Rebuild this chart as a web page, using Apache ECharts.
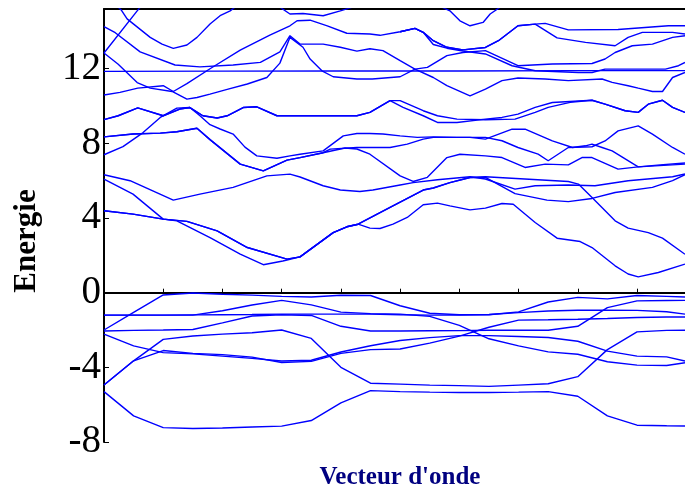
<!DOCTYPE html>
<html><head><meta charset="utf-8">
<script src="https://cdn.jsdelivr.net/npm/echarts@6/dist/echarts.min.js"></script>
<style>html,body{margin:0;padding:0;background:#fff}#c{width:685px;height:491px}</style>
</head><body><div id="c"></div>
<script>
// k-point grid (wave-vector units, one tick per unit)
const kGrid = [0,0.5,1,1.5,2,2.5,3,3.5,4,4.5,5,5.5,6,6.5,7,7.5,8,8.5,9,9.5,9.81];
// valence bands on kGrid
const vb1 = [-5.3,-6.6,-7.23,-7.28,-7.25,-7.2,-7.15,-6.85,-5.9,-5.25,-5.3,-5.33,-5.35,-5.35,-5.33,-5.3,-5.55,-6.6,-7.1,-7.13,-7.14];
const vb2 = [-4.95,-3.65,-2.5,-2.32,-2.22,-2.15,-2.0,-2.45,-4.0,-4.85,-4.9,-4.95,-4.98,-5.02,-4.95,-4.88,-4.5,-3.05,-2.1,-2.02,-2.01];
const vb3 = [-4.95,-3.65,-3.1,-3.25,-3.32,-3.45,-3.74,-3.68,-3.25,-3.05,-3.02,-2.7,-2.33,-1.85,-1.47,-1.45,-1.42,-1.38,-1.33,-1.3,-1.3];
const vb4 = [-2.22,-2.85,-3.21,-3.28,-3.4,-3.52,-3.66,-3.62,-3.18,-2.84,-2.56,-2.41,-2.3,-2.3,-2.35,-2.4,-2.6,-3.13,-3.4,-3.44,-3.66];
const vb5 = [-2.05,-2.02,-2.0,-1.97,-1.62,-1.25,-1.18,-1.22,-1.8,-2.05,-2.05,-2.04,-2.03,-2.01,-2.01,-2.01,-1.8,-0.8,-0.44,-0.42,-0.41];
const vb6 = [-1.2,-1.2,-1.2,-1.19,-1.18,-1.17,-1.15,-1.15,-1.15,-1.15,-1.18,-1.2,-1.2,-1.17,-1.07,-0.98,-0.94,-0.94,-0.95,-1.02,-1.15];
const vb7 = [-1.2,-1.2,-1.2,-1.2,-0.97,-0.66,-0.41,-0.65,-1.04,-1.12,-1.15,-1.27,-1.75,-2.47,-2.85,-3.17,-3.3,-3.7,-3.88,-3.9,-3.75];
const vb8 = [-2.0,-1.05,-0.12,-0.02,-0.08,-0.13,-0.2,-0.23,-0.14,-0.15,-0.7,-1.1,-1.18,-1.18,-1.03,-0.5,-0.25,-0.33,-0.15,-0.2,-0.23];

// conduction bands as [k, E]
const cb1 = [[0,6.09],[0.49,5.28],[1.00,3.94],[1.23,3.85],[1.79,2.95],[2.30,2.07],[2.69,1.5],[3.02,1.7],[3.31,1.92],[3.87,3.22],[4.10,3.53],[4.29,3.67],[4.49,3.46],[4.66,3.44],[4.88,3.67],[5.12,4.03],[5.39,4.71],[5.63,4.8],[5.84,4.65],[6.18,4.44],[6.44,4.53],[6.72,4.78],[6.91,4.74],[7.28,3.76],[7.65,2.92],[8.04,2.74],[8.24,2.42],[8.63,1.44],[8.85,1.0],[9.02,0.85],[9.36,1.08],[9.81,1.53]];
const cb2 = [[0,4.39],[0.49,4.21],[1.00,3.94],[1.40,3.82],[1.91,3.31],[2.42,2.42],[3.09,1.8],[3.31,1.92],[3.87,3.22],[4.10,3.53],[4.29,3.67],[4.83,4.57],[5.39,5.5],[5.56,5.61],[5.84,5.9],[6.18,6.17],[6.44,6.21],[7.84,5.96],[8.01,5.82],[8.24,5.1],[8.63,3.85],[8.85,3.46],[9.19,3.22],[9.43,2.92],[9.81,2.06]];
const cb3 = [[0,4.39],[0.49,4.21],[1.00,3.94],[1.40,3.82],[1.91,3.31],[2.42,2.42],[3.09,1.8],[3.31,1.92],[3.87,3.22],[4.10,3.53],[4.29,3.67],[4.83,4.57],[5.39,5.5],[5.56,5.61],[5.84,5.9],[6.18,6.17],[6.44,6.18],[6.94,5.31],[7.48,4.96],[7.84,4.88],[8.24,5.05],[8.63,5.37],[9.26,5.64],[9.60,6.0],[9.81,6.32]];
const cb4 = [[0,6.32],[0.44,6.0],[1.17,4.96],[1.62,5.28],[2.18,5.64],[2.75,6.26],[3.14,6.35],[3.31,6.2],[3.70,5.73],[3.99,5.5],[4.32,5.42],[4.54,5.5],[5.00,5.77],[5.22,5.9],[5.63,6.05],[6.18,6.21],[6.44,6.09],[6.94,5.55],[7.28,5.73],[7.84,5.77],[8.29,5.73],[8.85,6.0],[9.60,6.21],[9.81,6.36]];
const cb5 = [[0,8.35],[0.49,8.5],[0.95,8.55],[1.23,8.62],[1.57,8.81],[1.79,8.2],[2.30,6.89],[2.69,6.53],[3.09,7.1],[3.31,7.24],[3.70,7.5],[4.07,7.75],[4.27,7.7],[4.49,7.42],[5.00,6.26],[5.22,5.96],[5.46,6.18],[5.79,7.24],[6.01,7.42],[6.44,7.33],[6.72,7.24],[7.11,6.71],[7.45,6.89],[7.84,6.85],[8.07,7.24],[8.24,7.24],[8.68,6.62],[9.02,6.74],[9.81,6.89]];
const cb6 = [[0,8.35],[0.49,8.5],[0.95,8.55],[1.23,8.62],[1.57,8.81],[1.79,8.2],[2.30,6.89],[2.69,6.53],[3.09,7.1],[3.31,7.24],[3.70,7.5],[3.82,7.69],[4.27,7.78],[4.83,7.78],[5.12,7.96],[5.39,8.23],[5.56,8.32],[6.44,8.32],[6.72,8.14],[6.99,7.78],[7.33,7.42],[7.50,7.07],[7.84,7.78],[8.24,7.82],[8.46,8.13],[8.68,8.67],[9.02,8.94],[9.26,8.5],[9.60,7.78],[9.81,7.42]];
const cb7 = [[0,7.39],[0.32,7.83],[0.66,8.58],[0.95,9.39],[1.23,9.89],[1.45,9.92],[1.62,9.48],[1.79,9.0],[1.96,8.77],[2.18,8.5],[2.38,7.8],[2.58,7.33],[2.92,7.2],[3.14,7.33],[3.31,7.42],[3.70,7.6],[4.04,8.4],[4.27,8.53],[4.49,8.53],[4.71,8.5],[5.00,8.4],[5.29,8.32],[5.56,8.35],[5.96,8.32],[6.18,8.32],[6.44,8.23],[6.89,8.76],[7.11,8.76],[7.57,8.13],[7.91,7.78],[8.13,7.87],[8.24,7.96],[8.41,7.78],[8.58,7.6],[9.02,6.74],[9.39,6.85],[9.81,6.95]];
const cb8 = [[0,9.27],[0.24,9.48],[0.57,9.9],[1.0,9.48],[1.28,9.84],[1.45,9.92],[1.67,9.48],[1.91,9.36],[2.08,9.48],[2.35,9.92],[2.58,9.96],[2.92,9.48],[3.14,9.48],[4.27,9.48],[4.49,9.66],[4.83,10.29],[5.00,10.29],[5.39,9.75],[5.63,9.48],[5.96,9.3],[6.44,9.27],[6.94,9.3],[7.28,9.66],[7.50,9.93],[7.87,10.2],[8.24,10.31],[8.46,10.1],[8.80,9.75],[9.02,9.66],[9.19,10.1],[9.43,10.31],[9.60,9.93],[9.81,9.66]];
const cb9 = [[0,9.27],[0.24,9.48],[0.57,9.9],[1.0,9.48],[1.28,9.84],[1.45,9.92],[1.67,9.48],[1.91,9.36],[2.08,9.48],[2.35,9.92],[2.58,9.96],[2.92,9.48],[3.14,9.48],[4.27,9.48],[4.49,9.66],[4.83,10.29],[5.05,9.93],[5.39,9.48],[5.63,9.12],[5.96,9.12],[6.44,9.3],[6.72,9.39],[6.99,9.57],[7.28,9.93],[7.57,10.19],[8.24,10.31],[8.46,10.1],[8.80,9.75],[9.02,9.66],[9.19,10.1],[9.43,10.31],[9.60,9.93],[9.81,9.66]];
const cb10 = [[0,11.86],[2,11.87],[4,11.88],[6,11.88],[8,11.9],[9.81,11.9]];
const cb11 = [[0,14.25],[0.19,13.93],[0.61,12.9],[1.20,12.2],[1.62,12.1],[2.18,12.2],[2.64,12.34],[2.97,12.9],[3.14,13.77],[3.31,13.32],[3.70,13.32],[3.99,13.15],[4.27,12.94],[4.49,13.07],[4.71,12.97],[5.00,12.43],[5.25,11.98],[5.56,11.53],[5.79,11.09],[6.18,10.55],[6.44,10.91],[6.72,11.36],[6.99,11.5],[7.45,11.45],[7.84,11.36],[8.41,11.45],[8.58,11.27],[8.85,11.09],[9.02,10.96],[9.26,10.78],[9.43,10.78],[9.60,11.53],[9.81,11.8]];
const cb12 = [[0,12.84],[0.24,12.24],[0.56,11.26],[0.78,10.96],[1.15,10.78],[1.40,10.37],[1.57,10.46],[1.79,10.64],[2.08,10.89],[2.42,11.18],[2.75,11.53],[2.97,12.3],[3.14,13.68],[3.36,13.15],[3.48,12.52],[3.68,11.89],[3.87,11.57],[4.27,11.45],[4.53,11.45],[5.00,11.57],[5.25,11.98],[5.46,12.07],[5.79,12.7],[6.06,12.87],[6.44,12.97],[6.99,12.16],[7.57,12.25],[8.24,12.28],[8.46,12.52],[8.63,12.87],[8.92,13.23],[9.26,13.32],[9.60,13.68],[9.81,13.77]];
const cb13 = [[0,10.59],[0.27,10.73],[0.57,10.96],[1.00,11.09],[1.17,10.78],[1.40,11.2],[1.79,12.0],[2.30,13.0],[2.80,13.8],[3.14,14.3],[3.26,14.57],[3.48,14.6],[3.77,14.3],[4.10,13.9],[4.49,13.86],[4.66,13.79],[5.00,13.98],[5.25,14.16],[5.39,13.95],[5.56,13.5],[5.79,13.15],[6.06,13.01],[6.44,13.14],[6.66,13.5],[6.99,14.3],[7.28,14.39],[7.45,14.43],[7.84,14.08],[8.68,14.1],[9.53,14.3],[9.81,14.3]];
const cb14 = [[5.00,13.98],[5.25,14.16],[5.39,13.95],[5.56,13.5],[5.79,13.15],[6.06,13.01],[6.44,13.14],[6.66,13.5],[6.99,14.3],[7.28,14.39],[7.65,13.65],[8.13,13.41],[8.63,13.23],[8.85,13.68],[9.09,13.95],[9.60,13.95],[9.81,13.86]];
const cb15 = [[5.00,13.98],[5.25,14.16],[5.39,13.95],[5.56,13.3],[5.79,13.1],[6.06,12.95],[6.44,12.79],[6.89,12.16],[7.28,11.89],[8.01,11.8],[8.24,11.8],[8.46,11.98],[8.85,11.98],[9.48,11.98],[9.70,12.16],[9.81,12.34]];
const cb16 = [[0,12.84],[0.56,15.1],[0.8,16],[2.5,16],[2.97,15.3],[3.14,14.93],[3.36,14.96],[3.70,14.84],[3.99,15.1],[4.5,15.6],[5.5,15.6],[5.84,15.1],[6.01,14.57],[6.18,14.3],[6.40,14.48],[6.52,14.93],[6.69,15.3],[9.5,15.3],[9.81,15.3]];
const cb17 = [[0,16],[0.29,15.15],[0.39,14.67],[0.78,13.68],[0.98,13.32],[1.17,13.09],[1.40,13.27],[1.57,13.68],[1.79,14.4],[1.96,14.84],[2.13,15.1],[2.5,16]];

const yMin = -8, yMax = 15.2, yStep = 4;
const xMax = 9.81;

const valence = [vb1,vb2,vb3,vb4,vb5,vb6,vb7,vb8];
const conduction = [cb1,cb2,cb3,cb4,cb5,cb6,cb7,cb8,cb9,cb10,cb11,cb12,cb13,cb14,cb15,cb16,cb17];
const lineStyle = {color:'#0000ff', width:1.4};
const series = [];
valence.forEach(v => series.push({type:'line', data:kGrid.map((k,i)=>[k,v[i]]), showSymbol:false, symbol:'none', lineStyle, clip:true, silent:true}));
conduction.forEach(c => series.push({type:'line', data:c, showSymbol:false, symbol:'none', lineStyle, clip:true, silent:true}));

const chart = echarts.init(document.getElementById('c'));
chart.setOption({
  animation:false,
  grid:{left:104, right:0, top:9, bottom:49},
  xAxis:[{type:'value', min:0, max:xMax, interval:1,
    axisLine:{lineStyle:{color:'#000', width:2}},
    axisTick:{inside:true, length:4, lineStyle:{color:'#000', width:1}},
    axisLabel:{show:false}, splitLine:{show:false}},
   {type:'value', position:'top', min:0, max:xMax, interval:1,
    axisLine:{lineStyle:{color:'#000', width:2}},
    axisTick:{show:false}, axisLabel:{show:false}, splitLine:{show:false}}],
  yAxis:{type:'value', min:yMin, max:yMax, interval:yStep,
    axisLine:{lineStyle:{color:'#000', width:2}},
    axisTick:{inside:true, length:5, lineStyle:{color:'#000', width:1}},
    axisLabel:{color:'#000', fontFamily:'Liberation Serif', fontSize:39, margin:3, showMaxLabel:false},
    splitLine:{show:false}},
  graphic:[
    {type:'text', x:27, y:241, rotation:Math.PI/2,
      style:{text:'Energie', font:'bold 31px "Liberation Serif"', fill:'#000', textAlign:'center', textVerticalAlign:'middle'}},
    {type:'text', x:400, y:478,
      style:{text:"Vecteur d'onde", font:'bold 25px "Liberation Serif"', fill:'#000080', textAlign:'center', textVerticalAlign:'middle'}}
  ],
  series
});
</script></body></html>
